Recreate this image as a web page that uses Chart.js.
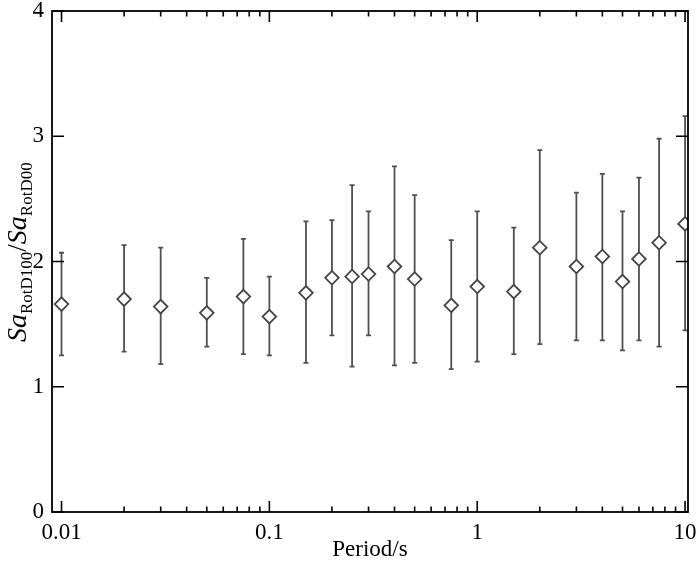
<!DOCTYPE html>
<html><head><meta charset="utf-8">
<script src="https://cdn.jsdelivr.net/npm/chart.js@4/dist/chart.umd.min.js"></script>
<style>html,body{margin:0;padding:0;background:#fff}#wrap{width:700px;height:564px;position:relative}</style>
</head><body><div id="wrap"><canvas id="c"></canvas></div>
<script>
const periods = [0.01,0.02,0.03,0.05,0.075,0.1,0.15,0.2,0.25,0.3,0.4,0.5,0.75,1,1.5,2,3,4,5,6,7.5,10];
const meanRatio = [1.66,1.70,1.64,1.59,1.72,1.56,1.75,1.87,1.88,1.90,1.96,1.86,1.65,1.80,1.76,2.11,1.96,2.04,1.84,2.02,2.15,2.30];
const upperRatio = [2.07,2.13,2.11,1.87,2.18,1.88,2.32,2.33,2.61,2.40,2.76,2.53,2.17,2.40,2.27,2.89,2.55,2.70,2.40,2.67,2.98,3.16];
const lowerRatio = [1.25,1.28,1.18,1.32,1.26,1.25,1.19,1.41,1.16,1.41,1.17,1.19,1.14,1.20,1.26,1.34,1.37,1.37,1.29,1.37,1.32,1.45];
const xTickLabels = [0.01,0.1,1,10];
const yTickLabels = [0,1,2,3,4];
const xMinorFactors = [2,3,4,5,6,7,8,9];

const FONT = 'Liberation Serif';
const MARK = '#444444';

const errorBars = {
  id: 'errorBars',
  beforeDatasetsDraw(chart) {
    const {ctx, scales: {x, y}} = chart;
    ctx.save();
    ctx.strokeStyle = '#505050';
    ctx.lineWidth = 1.8;
    periods.forEach((p, i) => {
      const px = x.getPixelForValue(p);
      const top = y.getPixelForValue(upperRatio[i]);
      const bot = y.getPixelForValue(lowerRatio[i]);
      ctx.beginPath();
      ctx.moveTo(px, top); ctx.lineTo(px, bot);
      ctx.moveTo(px - 2.5, top); ctx.lineTo(px + 2.5, top);
      ctx.moveTo(px - 2.5, bot); ctx.lineTo(px + 2.5, bot);
      ctx.stroke();
    });
    ctx.restore();
  }
};

const frameTicks = {
  id: 'frameTicks',
  afterDatasetsDraw(chart) {
    const {ctx, chartArea: a, scales: {x, y}} = chart;
    ctx.save();
    ctx.strokeStyle = '#000';
    ctx.lineWidth = 1.8;
    ctx.strokeRect(a.left, a.top, a.right - a.left, a.bottom - a.top);
    ctx.lineWidth = 1.6;
    ctx.beginPath();
    const decades = [0.01, 0.1, 1, 10];
    decades.forEach(d => {
      const px = x.getPixelForValue(d);
      ctx.moveTo(px, a.bottom); ctx.lineTo(px, a.bottom - 11);
      ctx.moveTo(px, a.top); ctx.lineTo(px, a.top + 11);
      if (d < 10) xMinorFactors.forEach(f => {
        const mx = x.getPixelForValue(d * f);
        ctx.moveTo(mx, a.bottom); ctx.lineTo(mx, a.bottom - 5.5);
        ctx.moveTo(mx, a.top); ctx.lineTo(mx, a.top + 5.5);
      });
    });
    yTickLabels.forEach(v => {
      const py = y.getPixelForValue(v);
      ctx.moveTo(a.left, py); ctx.lineTo(a.left + 12, py);
      ctx.moveTo(a.right, py); ctx.lineTo(a.right - 12, py);
    });
    ctx.stroke();
    // y-axis title with subscripts, drawn upward from its bottom end
    const parts = [
      {t: 'Sa', f: `italic 28px "${FONT}"`, dy: 0},
      {t: 'RotD100', f: `17px "${FONT}"`, dy: 6},
      {t: '/', f: `27px "${FONT}"`, dy: 0},
      {t: 'Sa', f: `italic 28px "${FONT}"`, dy: 0},
      {t: 'RotD00', f: `17px "${FONT}"`, dy: 6}
    ];
    ctx.translate(26, 342);
    ctx.rotate(-Math.PI / 2);
    ctx.fillStyle = '#000';
    ctx.textBaseline = 'alphabetic';
    let cx = 0;
    parts.forEach(p => { ctx.font = p.f; ctx.fillText(p.t, cx, p.dy); cx += ctx.measureText(p.t).width; });
    ctx.restore();
  }
};

new Chart(document.getElementById('c'), {
  type: 'scatter',
  data: {
    datasets: [{
      data: periods.map((p, i) => ({x: p, y: meanRatio[i]})),
      pointStyle: 'rectRot',
      pointRadius: 6.8,
      pointHoverRadius: 6.8,
      borderColor: MARK,
      backgroundColor: '#fff',
      pointBorderWidth: 1.8,
      showLine: false
    }]
  },
  options: {
    responsive: true,
    maintainAspectRatio: false,
    animation: false,
    events: [],
    layout: {padding: {top: 11, right: 12, left: 0, bottom: 0}},
    plugins: {legend: {display: false}, tooltip: {enabled: false}},
    scales: {
      x: {
        type: 'logarithmic',
        min: 0.009,
        max: 10.33,
        grid: {display: false, drawTicks: false},
        border: {display: false},
        afterBuildTicks: s => { s.ticks = xTickLabels.map(v => ({value: v})); },
        afterFit: s => { s.height = 52; s.paddingLeft = 0; s.paddingRight = 0; },
        ticks: {
          autoSkip: false, maxRotation: 0, padding: 7, color: '#000',
          font: {family: FONT, size: 23},
          callback: v => xTickLabels.includes(v) ? String(v) : ''
        },
        title: {display: true, text: 'Period/s', color: '#000', font: {family: FONT, size: 23}, padding: {top: -1, bottom: 0}}
      },
      y: {
        min: 0, max: 4,
        grid: {display: false, drawTicks: false},
        border: {display: false},
        afterBuildTicks: s => { s.ticks = yTickLabels.map(v => ({value: v})); },
        afterFit: s => { s.width = 52; s.paddingTop = 0; s.paddingBottom = 0; },
        ticks: {padding: 8, color: '#000', font: {family: FONT, size: 23}}
      }
    }
  },
  plugins: [errorBars, frameTicks]
});
</script></body></html>
